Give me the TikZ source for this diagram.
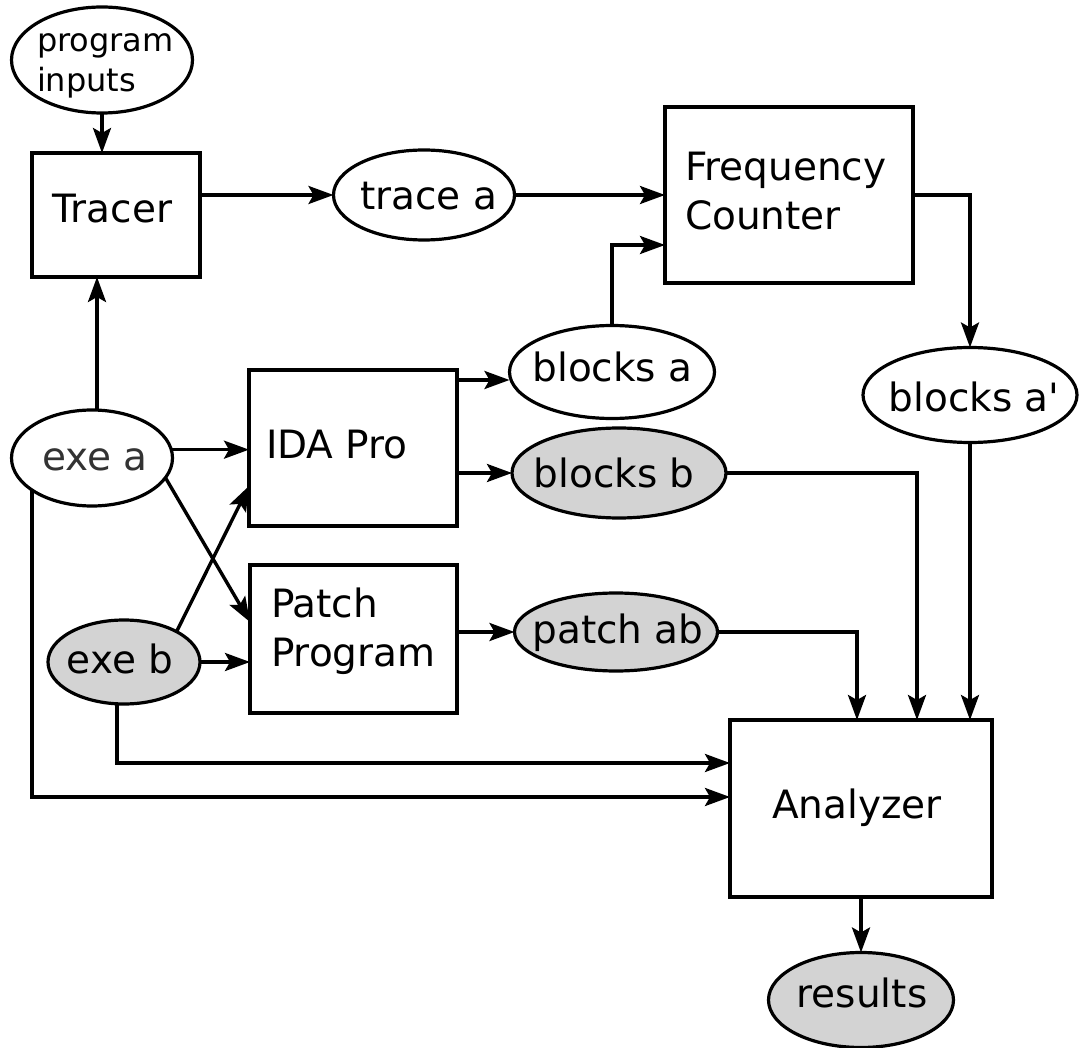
\documentclass[tikz,border=0pt]{standalone}
\usepackage{fontspec}
\setmainfont{DejaVu Sans}
\usetikzlibrary{shapes.geometric,arrows.meta}

\definecolor{shade}{HTML}{D3D3D3}
\definecolor{softink}{HTML}{333333}

\begin{document}
\begin{tikzpicture}[x=1pt,y=-1pt,
  every node/.style={inner sep=0pt,outer sep=0pt},
  box/.style={draw,line width=3.6pt,rectangle},
  oval/.style={draw,line width=3.2pt,ellipse},
  filled/.style={oval,fill=shade},
  txt/.style={font=\fontsize{39}{46}\selectfont},
  smalltxt/.style={font=\fontsize{32}{38}\selectfont},
  arr/.style={line width=3.4pt,-{Stealth[length=25pt,width=18pt,inset=5pt]}}]

% canvas
\fill[white] (0,0) rectangle (1082,1048);
\useasboundingbox (0,0) rectangle (1082,1048);

% processing boxes
\node[box,minimum width=168,minimum height=124] (tracer)   at (116,215)   {};
\node[box,minimum width=248,minimum height=176] (fc)       at (789,195)   {};
\node[box,minimum width=208,minimum height=156] (ida)      at (353,448)   {};
\node[box,minimum width=207,minimum height=148] (patch)    at (353.5,639) {};
\node[box,minimum width=262,minimum height=177] (analyzer) at (861,808.5) {};

% data items
\node[oval,  minimum width=181,minimum height=106] (pin)      at (102,60)  {};
\node[oval,  minimum width=181,minimum height=90]  (tracea)   at (424,195) {};
\node[oval,  minimum width=205,minimum height=93]  (blocksa)  at (612,372) {};
\node[oval,  minimum width=214,minimum height=95]  (blocksap) at (970,395) {};
\node[oval,  minimum width=161,minimum height=96]  (exea)     at (92,458)  {};
\node[filled,minimum width=214,minimum height=90]  (blocksb)  at (619,473) {};
\node[filled,minimum width=203,minimum height=78]  (patchab)  at (616,632) {};
\node[filled,minimum width=152,minimum height=84]  (exeb)     at (124,662) {};
\node[filled,minimum width=185,minimum height=95]  (results)  at (861,1000) {};

% labels
\node[smalltxt,anchor=base west] (pin-t1) at (37,52) {program};
\node[smalltxt,anchor=base west] (pin-t2) at (37,92) {inputs};
\node[txt,anchor=base] (tracer-t) at (112.5,223) {Tracer};
\node[txt,anchor=base west] (fc-t1) at (685,181) {Frequency};
\node[txt,anchor=base west] (fc-t2) at (685,230) {Counter};
\node[txt,anchor=base west] (ida-t) at (266,458) {IDA Pro};
\node[txt,anchor=base west] (patch-t1) at (271,617) {Patch};
\node[txt,anchor=base west] (patch-t2) at (271,666) {Program};
\node[txt,anchor=base] (analyzer-t) at (857,818) {Analyzer};
\node[txt,anchor=base] (tracea-t) at (428.5,210) {trace a};
\node[txt,anchor=base] (blocksa-t) at (612.5,382) {blocks a};
\node[txt,anchor=base] (blocksap-t) at (974,412) {blocks a\textquotesingle};
\node[txt,anchor=base,text=softink] (exea-t) at (95,471) {exe a};
\node[txt,anchor=base] (blocksb-t) at (614,487) {blocks b};
\node[txt,anchor=base] (patchab-t) at (618,643) {patch ab};
\node[txt,anchor=base] (exeb-t) at (120,673) {exe b};
\node[txt,anchor=base] (results-t) at (862,1007) {results};

% connectors
\draw[arr] (pin.south) -- (pin.south |- tracer.north);
\draw[arr] (tracer.east |- tracea.west) -- (tracea.west);
\draw[arr] (tracea.east) -- (tracea.east -| fc.west);
\draw[arr] (blocksa.north) |- ([yshift=-50pt]fc.west);
\draw[arr] (fc.east) -| (blocksap.north);
\draw[arr] ([xshift=5pt]exea.north) -- ([xshift=5pt]exea.north |- tracer.south);
\draw[arr] (exea.6) -- (exea.6 -| ida.west);
\draw[arr] (exea.-15) -- ([yshift=17pt]patch.west);
\draw[arr] (exeb.30) -- ([yshift=-38pt]ida.west);
\draw[arr] (exeb.east) -- (exeb.east -| patch.west);
\draw[arr] ([yshift=-10pt]ida.north east) -- ([yshift=-10pt]ida.north east -| blocksa.west);
\draw[arr] (blocksb.west -| ida.east) -- (blocksb.west);
\draw[arr] (patchab.west -| patch.east) -- (patchab.west);
\draw[arr] (blocksb.east) -| ([xshift=56pt]analyzer.north);
\draw[arr] (patchab.east) -| ([xshift=-4pt]analyzer.north);
\draw[arr] (blocksap.south) -- (blocksap.south |- analyzer.north);
\draw[arr] ([xshift=-7pt]exeb.south) |- ([yshift=45.5pt]analyzer.west);
\draw[arr] (exea.208) |- ([yshift=11.5pt]analyzer.west);
\draw[arr] (analyzer.south) -- (results.north);
\end{tikzpicture}
\end{document}
